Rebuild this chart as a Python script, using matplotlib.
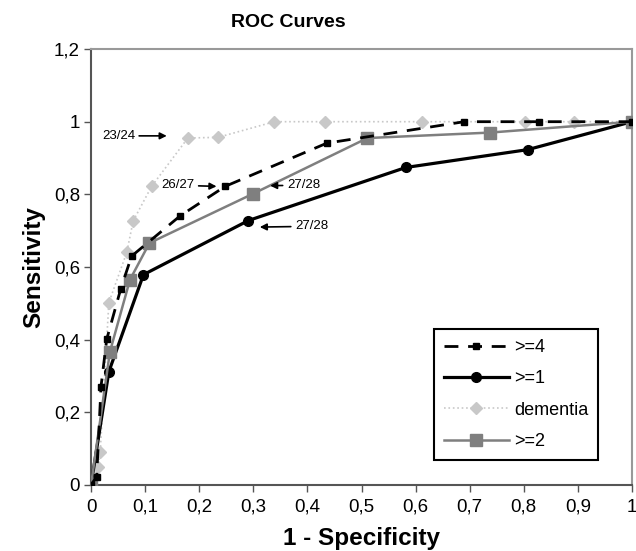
import matplotlib
matplotlib.use("Agg")
import matplotlib.pyplot as plt
from matplotlib.ticker import FuncFormatter

plt.rcParams['font.family'] = ['Liberation Sans', 'DejaVu Sans']

# data (x = 1 - specificity, y = sensitivity)
ge4_x = [0, 0.0105, 0.0185, 0.029, 0.055, 0.075, 0.165, 0.248, 0.436, 0.69, 0.829, 1.0]
ge4_y = [0, 0.023, 0.271, 0.401, 0.54, 0.63, 0.741, 0.822, 0.941, 1.0, 1.0, 1.0]

ge1_x = [0, 0.033, 0.097, 0.291, 0.582, 0.807, 1.0]
ge1_y = [0, 0.312, 0.579, 0.728, 0.874, 0.923, 1.0]

dem_x = [0, 0.0135, 0.017, 0.033, 0.066, 0.078, 0.112, 0.179, 0.235, 0.339, 0.433, 0.611, 0.802, 0.892, 1.0]
dem_y = [0, 0.05, 0.092, 0.502, 0.64, 0.727, 0.822, 0.955, 0.957, 1.0, 1.0, 1.0, 1.0, 1.0, 1.0]

ge2_x = [0, 0.035, 0.072, 0.108, 0.3, 0.511, 0.737, 1.0]
ge2_y = [0, 0.367, 0.565, 0.666, 0.802, 0.955, 0.97, 1.0]

# cut-off annotations: label, arrow tip (x, y), text position (x, y)
notes = [
    ("23/24", (0.14, 0.961), (0.02, 0.961)),
    ("26/27", (0.232, 0.822), (0.13, 0.825)),
    ("27/28", (0.331, 0.824), (0.362, 0.825)),
    ("27/28", (0.312, 0.71), (0.377, 0.712)),
]

fig = plt.figure(figsize=(6.36, 5.51), dpi=100)
ax = fig.add_axes([0.1431, 0.1198, 0.8506, 0.7912])

ax.plot(dem_x, dem_y, color='#c8c8c8', linestyle=':', linewidth=1.2,
        marker='D', markersize=6, markerfacecolor='#c8c8c8',
        markeredgecolor='#c8c8c8', label='dementia', zorder=2)
ax.plot(ge1_x, ge1_y, color='black', linewidth=2.3,
        marker='o', markersize=7, label='>=1', zorder=3)
ax.plot(ge2_x, ge2_y, color='#7f7f7f', linewidth=1.8,
        marker='s', markersize=8.5, label='>=2', zorder=3)
ax.plot(ge4_x, ge4_y, color='black', linewidth=2.0, dashes=(5, 3.5),
        marker='s', markersize=4, label='>=4', zorder=4)

for lab, tip, pos in notes:
    ax.annotate(lab, xy=tip, xytext=pos, fontsize=9.5, va='center', ha='left',
                arrowprops=dict(arrowstyle='-|>', color='black', lw=1.2,
                                shrinkA=1, shrinkB=0, mutation_scale=10))

ax.set_xlim(0, 1)
ax.set_ylim(0, 1.2)
ax.set_xticks([i / 10 for i in range(11)])
ax.set_yticks([0, 0.2, 0.4, 0.6, 0.8, 1.0, 1.2])


def comma(v, pos):
    s = ('%.1f' % v).rstrip('0').rstrip('.')
    return s.replace('.', ',')


ax.xaxis.set_major_formatter(FuncFormatter(comma))
ax.yaxis.set_major_formatter(FuncFormatter(comma))
ax.tick_params(labelsize=13.5, length=5, width=1, color='#555555')
ax.tick_params(axis='x', pad=5)
ax.tick_params(axis='y', pad=3)

for side in ['left', 'bottom']:
    ax.spines[side].set_color('#555555')
    ax.spines[side].set_linewidth(1.5)
for side in ['top', 'right']:
    ax.spines[side].set_color('#999999')
    ax.spines[side].set_linewidth(1.5)

ax.set_title('ROC Curves', fontsize=14, fontweight='bold', pad=16, x=0.365)
ax.set_xlabel('1 - Specificity', fontsize=17.5, fontweight='bold', labelpad=8)
ax.set_ylabel('Sensitivity', fontsize=17.5, fontweight='bold', labelpad=6)

handles, labels = ax.get_legend_handles_labels()
order = ['>=4', '>=1', 'dementia', '>=2']
hmap = dict(zip(labels, handles))
leg = ax.legend([hmap[k] for k in order], order, loc='lower right',
                bbox_to_anchor=(0.938, 0.057), fontsize=13, fancybox=False,
                edgecolor='black', framealpha=1, handlelength=3.6,
                handletextpad=0.3, labelspacing=0.8, borderpad=0.55,
                borderaxespad=0)
leg.get_frame().set_linewidth(1.5)

fig.savefig('out.png', dpi=100)
